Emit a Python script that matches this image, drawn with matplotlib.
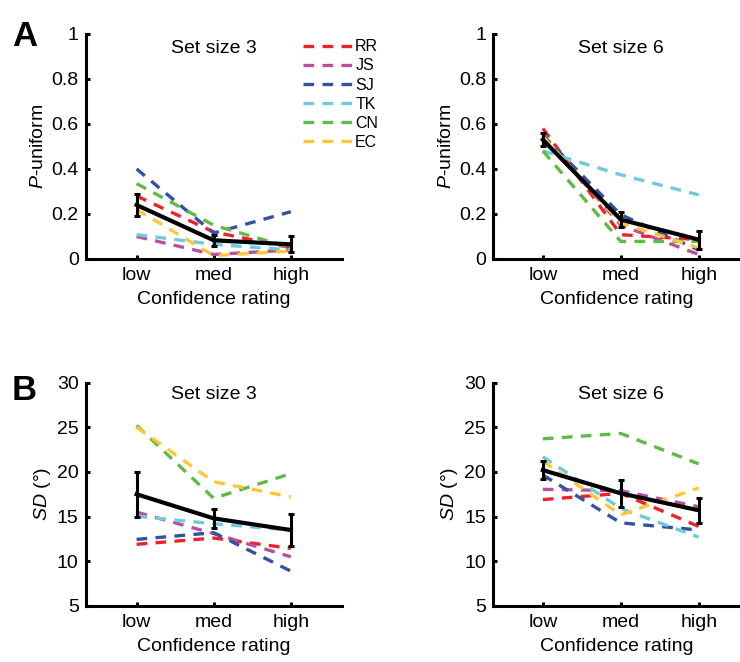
import matplotlib
matplotlib.use("Agg")
import matplotlib.pyplot as plt
import matplotlib.transforms as mtransforms
import numpy as np

plt.rcParams['font.family'] = ['Liberation Sans', 'DejaVu Sans']
plt.rcParams['mathtext.fontset'] = 'custom'
plt.rcParams['mathtext.it'] = 'Liberation Sans:italic'
plt.rcParams['mathtext.rm'] = 'Liberation Sans'

conf_labels = ['low', 'med', 'high']
subjects = ['RR', 'JS', 'SJ', 'TK', 'CN', 'EC']
colors = ['#ee2229', '#b8519f', '#3452a4', '#6fcadc', '#62b946', '#fec735']

# Panel A: P-uniform
puni_ss3 = {
    'RR': [0.28, 0.12, 0.05],
    'JS': [0.10, 0.02, 0.04],
    'SJ': [0.40, 0.115, 0.21],
    'TK': [0.108, 0.065, 0.04],
    'CN': [0.335, 0.15, 0.05],
    'EC': [0.22, 0.015, 0.035],
}
puni_ss3_mean = [0.24, 0.083, 0.065]
puni_ss3_err = [0.05, 0.025, 0.035]

puni_ss6 = {
    'RR': [0.58, 0.108, 0.086],
    'JS': [0.55, 0.15, 0.02],
    'SJ': [0.55, 0.197, 0.04],
    'TK': [0.48, 0.374, 0.285],
    'CN': [0.48, 0.078, 0.078],
    'EC': [0.545, 0.16, 0.05],
}
puni_ss6_mean = [0.53, 0.175, 0.086]
puni_ss6_err = [0.03, 0.035, 0.04]

# Panel B: SD (deg)
sd_ss3 = {
    'RR': [11.9, 12.6, 11.45],
    'JS': [15.5, 13.1, 10.5],
    'SJ': [12.45, 13.2, 8.9],
    'TK': [15.05, 14.2, 13.5],
    'CN': [25.2, 17.05, 19.8],
    'EC': [25.0, 18.9, 17.2],
}
sd_ss3_mean = [17.5, 14.8, 13.5]
sd_ss3_err = [2.5, 1.05, 1.8]

sd_ss6 = {
    'RR': [16.9, 17.6, 13.9],
    'JS': [18.05, 17.9, 16.1],
    'SJ': [19.65, 14.3, 13.5],
    'TK': [21.7, 15.9, 12.7],
    'CN': [23.7, 24.3, 20.9],
    'EC': [21.2, 15.2, 18.2],
}
sd_ss6_mean = [20.2, 17.6, 15.7]
sd_ss6_err = [1.05, 1.5, 1.4]

x = np.arange(1, 4)

fig = plt.figure(figsize=(7.4, 6.62), dpi=100)

W = 0.346
axes_pos = [
    [0.1158, 0.6088, W, 0.3399],
    [0.6662, 0.6088, 1.0 - 0.6662, 0.3399],
    [0.1158, 0.0846, W, 0.3376],
    [0.6662, 0.0846, 1.0 - 0.6662, 0.3376],
]
xlims = [(0.34, 3.66), (0.36, 3.53), (0.34, 3.66), (0.36, 3.53)]
datasets = [
    (puni_ss3, puni_ss3_mean, puni_ss3_err, 'Set size 3'),
    (puni_ss6, puni_ss6_mean, puni_ss6_err, 'Set size 6'),
    (sd_ss3, sd_ss3_mean, sd_ss3_err, 'Set size 3'),
    (sd_ss6, sd_ss6_mean, sd_ss6_err, 'Set size 6'),
]

FS = 14
for i, (pos, xl, (data, mean, err, title)) in enumerate(zip(axes_pos, xlims, datasets)):
    ax = fig.add_axes(pos)
    for s, c in zip(subjects, colors):
        ax.plot(x, data[s], color=c, lw=2.4, dashes=(3.2, 2.5), label=s,
                dash_capstyle='butt')
    ax.errorbar(x, mean, yerr=err, color='black', lw=3.0, elinewidth=2.2,
                capsize=2.5, capthick=2.2, zorder=10)
    ax.set_xlim(*xl)
    ax.set_xticks(x)
    ax.set_xticklabels(conf_labels)
    if i < 2:
        ax.set_ylim(0, 1)
        ax.set_yticks([0, 0.2, 0.4, 0.6, 0.8, 1])
        ax.set_yticklabels(['0', '0.2', '0.4', '0.6', '0.8', '1'])
        ax.set_ylabel(r'$\it{P}$-uniform', fontsize=FS, labelpad=3)
        ty = 0.935
    else:
        ax.set_ylim(5, 30)
        ax.set_yticks([5, 10, 15, 20, 25, 30])
        ax.set_ylabel(r'$\it{SD}$ (°)', fontsize=FS, labelpad=3)
        ty = 0.945
    trans = mtransforms.blended_transform_factory(ax.transData, ax.transAxes)
    ax.text(2, ty, title, transform=trans, ha='center', va='center', fontsize=FS)
    ax.set_xlabel('Confidence rating', fontsize=FS, labelpad=5)
    for sp in ['top', 'right']:
        ax.spines[sp].set_visible(False)
    for sp in ['left', 'bottom']:
        ax.spines[sp].set_linewidth(2.2)
    ax.tick_params(direction='in', length=3, width=2.2, labelsize=FS, pad=5)
    ax.tick_params(axis='x', pad=6)
    ax.patch.set_visible(False)
    if i == 0:
        ax.legend(loc='upper left', bbox_to_anchor=(0.825, 1.005), frameon=False,
                  fontsize=11.5, handlelength=3.1, handletextpad=0.15,
                  labelspacing=0.26, borderaxespad=0.0)

fig.text(0.016, 0.945, 'A', fontsize=25, fontweight='bold', va='center')
fig.text(0.016, 0.41, 'B', fontsize=25, fontweight='bold', va='center')

fig.savefig('out.png', dpi=100)
